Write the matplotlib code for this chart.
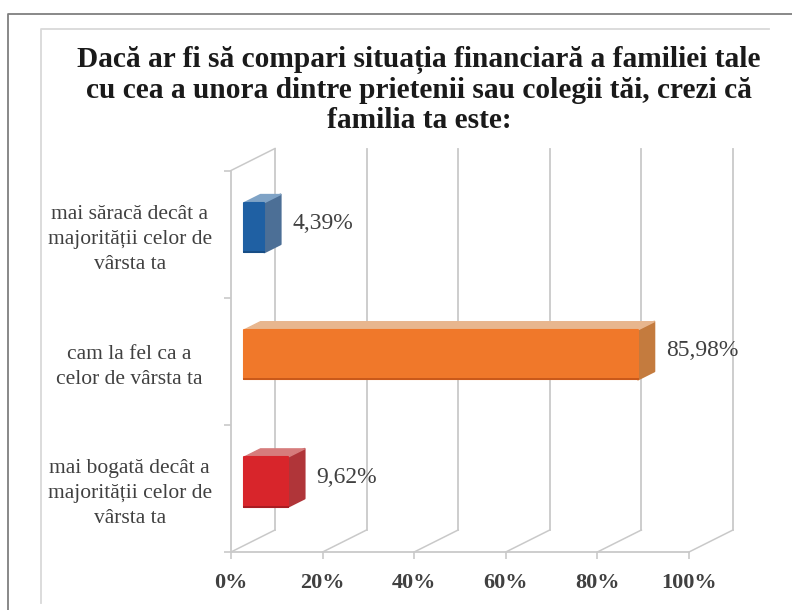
# horizontal 3d style bar chart, redrawn in plain matplotlib
import matplotlib.pyplot as plt
from matplotlib.lines import Line2D

# the data
categories = ["mai săracă decât a\nmajorității celor de\nvârsta ta",
              "cam la fel ca a\ncelor de vârsta ta",
              "mai bogată decât a\nmajorității celor de\nvârsta ta"]
values = [4.39, 85.98, 9.62]
value_labels = ["4,39%", "85,98%", "9,62%"]
x_ticks = [0, 20, 40, 60, 80, 100]
x_tick_labels = ["0%", "20%", "40%", "60%", "80%", "100%"]
title = ("Dacă ar fi să compari situația financiară a familiei tale\n"
         "cu cea a unora dintre prietenii sau colegii tăi, crezi că\n"
         "familia ta este:")

# colours for front, side, top of each bar
front_colors = ["#1f60a3", "#f0782a", "#d8252b"]
side_colors = ["#4c6f96", "#c47b3e", "#b03539"]
top_colors = ["#7fa3c6", "#e8b68e", "#d67c7c"]
edge_colors = ["#174d85", "#c9591a", "#a81c22"]

grid_color = "#c9c9c9"
text_color = "#404040"
font = "Liberation Serif"

# the depth of the fake 3d floor, in axis units
wall_dx = 9.6
wall_dy = 0.173
# where the bar sits in that depth
bar_start = 0.3
bar_depth = 0.37
bar_height = 0.39

fig = plt.figure(figsize=(7.92, 6.10), dpi=100)
ax = fig.add_axes([231 / 792, 58 / 610, 458 / 792, 381.5 / 610])
ax.set_xlim(0, 100)
ax.set_ylim(2.5, -0.5)

for side in ["top", "right"]:
    ax.spines[side].set_visible(False)
for side in ["left", "bottom"]:
    ax.spines[side].set_color(grid_color)
    ax.spines[side].set_linewidth(1.3)

# back wall and floor lines
for t in x_ticks:
    ax.plot([t, t + wall_dx], [2.5, 2.5 - wall_dy], color=grid_color, lw=1.1, clip_on=False, zorder=1)
    ax.plot([t + wall_dx, t + wall_dx], [2.5 - wall_dy, -0.5 - wall_dy], color=grid_color, lw=1.3, clip_on=False, zorder=1)
ax.plot([0, wall_dx], [-0.5, -0.5 - wall_dy], color=grid_color, lw=1.1, clip_on=False, zorder=1)

# the bars, front face plus side and top
for i, v in enumerate(values):
    x0 = bar_start * wall_dx
    y_mid = i - bar_start * wall_dy
    y_top = y_mid - bar_height / 2
    y_bot = y_mid + bar_height / 2
    dx = bar_depth * wall_dx
    dy = bar_depth * wall_dy
    ax.fill([x0 + v, x0 + v + dx, x0 + v + dx, x0 + v], [y_top, y_top - dy, y_bot - dy, y_bot],
            color=side_colors[i], lw=1.5, joinstyle="round", clip_on=False, zorder=3)
    ax.fill([x0, x0 + dx, x0 + v + dx, x0 + v], [y_top, y_top - dy, y_top - dy, y_top],
            color=top_colors[i], lw=1, joinstyle="round", clip_on=False, zorder=3)
    ax.fill([x0, x0 + v, x0 + v, x0], [y_top, y_top, y_bot, y_bot],
            color=front_colors[i], lw=1.5, joinstyle="round", clip_on=False, zorder=4)
    ax.plot([x0, x0 + v], [y_bot, y_bot], color=edge_colors[i], lw=1.4, clip_on=False, zorder=5)
    ax.annotate(value_labels[i], xy=(x0 + v + dx, y_mid - dy / 2), xytext=(8.6, 0),
                textcoords="offset points", ha="left", va="center", fontsize=17,
                family=font, color=text_color, annotation_clip=False, zorder=6)

# ticks, majors on the band edges, labels on minor ones in the middle
ax.set_xticks(x_ticks)
ax.set_xticklabels(x_tick_labels, fontsize=16, fontweight="bold", family=font, color=text_color)
ax.tick_params(axis="x", length=5, width=1.2, color=grid_color, pad=10)
ax.set_yticks([-0.5, 0.5, 1.5, 2.5])
ax.set_yticklabels([])
ax.tick_params(axis="y", which="major", length=5, width=1.2, color=grid_color)
ax.set_yticks([0, 1, 2], minor=True)
ax.set_yticklabels(categories, minor=True, fontsize=15.5, family=font, color=text_color,
                   ha="center", linespacing=1.42)
ax.tick_params(axis="y", which="minor", length=0, pad=73)

fig.text(419 / 792, 1 - 90 / 610, title, ha="center", va="center", fontsize=21.2,
         fontweight="bold", family=font, color="#1a1a1a", linespacing=1.12)

# the picture frame and inner chart frame
W, H = 792, 610
fig.add_artist(Line2D([8 / W, 8 / W, 1], [0, 1 - 14 / H, 1 - 14 / H], color="#7f7f7f", lw=1.3))
fig.add_artist(Line2D([41 / W, 41 / W, 769 / W], [1 - 603 / H, 1 - 29 / H, 1 - 29 / H], color="#d9d9d9", lw=1.3))

fig.savefig("out.png", dpi=100)
